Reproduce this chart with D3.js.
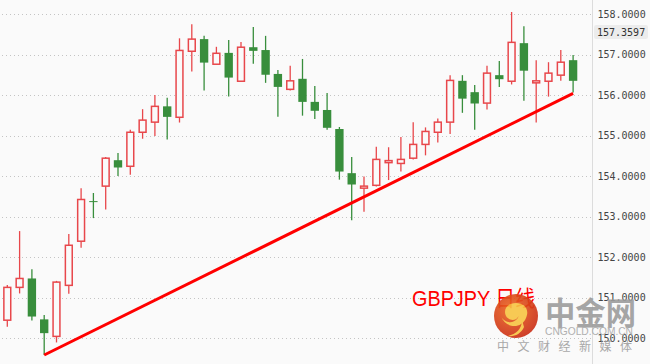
<!DOCTYPE html>
<html lang="en">
<head>
<meta charset="utf-8">
<title>GBPJPY 日线</title>
<script src="https://cdn.jsdelivr.net/npm/d3@7"></script>
<style>
  body { margin: 0; background: #fafafa; }
  svg { display: block; }
</style>
</head>
<body>
<script>
// daily candles (red = up, green = down)
var opens  = [150.44, 151.25, 151.47, 150.46, 150.04, 151.30, 152.39, 153.38, 153.75, 154.39,
              154.24, 155.08, 155.33, 155.72, 155.45, 157.08, 157.38, 156.76, 157.04, 156.34,
              157.18, 157.11, 156.52, 156.14, 156.40, 155.83, 155.63, 155.16, 154.07, 153.70,
              153.77, 154.33, 154.31, 154.44, 154.78, 155.08, 155.33, 156.35, 156.07, 155.80,
              156.49, 156.34, 157.28, 156.30, 156.34, 156.49, 156.86];
var highs  = [151.31, 152.64, 151.70, 150.57, 151.41, 152.57, 153.70, 153.58, 154.47, 154.57,
              155.14, 155.65, 156.00, 155.93, 157.40, 157.75, 157.46, 157.19, 157.36, 157.31,
              157.68, 157.46, 156.62, 156.72, 156.89, 156.22, 156.05, 155.21, 154.47, 153.99,
              154.72, 154.71, 154.96, 155.33, 155.20, 155.42, 156.49, 156.49, 156.25, 156.72,
              156.84, 158.05, 157.70, 156.86, 156.81, 157.11, 156.99];
var lows   = [150.28, 151.10, 150.43, 149.58, 149.89, 151.09, 152.23, 152.96, 153.17, 154.00,
              154.03, 154.92, 154.99, 154.90, 155.32, 156.58, 156.11, 156.76, 155.96, 156.34,
              156.77, 156.30, 155.46, 156.11, 155.49, 155.41, 155.14, 153.91, 152.91, 153.12,
              153.74, 153.90, 154.11, 154.41, 154.51, 154.83, 155.04, 155.56, 155.14, 155.64,
              156.20, 156.26, 155.86, 155.32, 155.96, 156.35, 156.06];
var closes = [151.25, 151.47, 150.53, 150.12, 151.38, 152.29, 153.42, 153.36, 154.44, 154.21,
              155.08, 155.38, 155.72, 155.46, 157.10, 157.38, 156.80, 157.03, 156.43, 157.18,
              157.09, 156.50, 156.20, 156.35, 155.83, 155.61, 155.19, 154.11, 153.79, 153.75,
              154.41, 154.38, 154.41, 154.78, 155.10, 155.33, 156.36, 155.91, 155.79, 156.54,
              156.39, 157.30, 156.60, 156.35, 156.54, 156.81, 156.35];

var yTicks = [150, 151, 152, 153, 154, 155, 156, 157, 158];
var lastPrice = 157.3597;

// support line: candle index and price at each end
var trendIdx = [3, 46];
var trendVal = [149.58, 156.04];

var width = 650, height = 364;
var axisX = 592.5;
var upColor = "#e8474b", downColor = "#388e3c", bg = "#fafafa";

var svg = d3.select("body").append("svg")
    .attr("width", width)
    .attr("height", height)
    .style("background", bg);

var idx = d3.range(opens.length);

var x = d3.scaleBand()
    .domain(idx)
    .range([1.15, 1.15 + opens.length * 12.3])
    .paddingInner(0.32)
    .paddingOuter(0.16);

var y = d3.scaleLinear()
    .domain([150, 158])
    .range([338, 14]);

function cx(i) { return x(i) + x.bandwidth() / 2; }

// dotted grid
svg.append("g").selectAll("line")
    .data(yTicks)
    .enter().append("line")
    .attr("x1", 2).attr("x2", axisX)
    .attr("y1", function(d) { return Math.round(y(d)) + 0.5; })
    .attr("y2", function(d) { return Math.round(y(d)) + 0.5; })
    .attr("stroke", "#c4c4c4")
    .attr("stroke-dasharray", "1,3");

// right axis
var yAxis = d3.axisRight(y)
    .tickValues(yTicks)
    .tickSize(0)
    .tickPadding(5)
    .tickFormat(d3.format(".4f"));

var gAxis = svg.append("g")
    .attr("transform", "translate(" + axisX + ",0)")
    .call(yAxis);
gAxis.select(".domain").remove();
gAxis.selectAll("text")
    .attr("fill", "#444")
    .style("font-family", "DejaVu Sans Mono, monospace")
    .style("font-size", "10px");

svg.append("line")
    .attr("x1", axisX).attr("x2", axisX)
    .attr("y1", 0).attr("y2", height)
    .attr("stroke", "#dcdcdc");

// last price tag
var tag = svg.append("g").attr("transform", "translate(594,25)");
tag.append("rect")
    .attr("width", 54).attr("height", 14)
    .attr("rx", 2)
    .attr("fill", "#ececec");
tag.append("text")
    .attr("x", 3).attr("y", 7)
    .attr("dy", "0.35em")
    .attr("fill", "#333")
    .style("font-family", "DejaVu Sans Mono, monospace")
    .style("font-size", "10px")
    .text(d3.format(".4f")(lastPrice));

// candles
var candles = svg.append("g").selectAll("g")
    .data(idx)
    .enter().append("g");

candles.append("line")
    .attr("x1", function(i) { return cx(i); })
    .attr("x2", function(i) { return cx(i); })
    .attr("y1", function(i) { return y(highs[i]); })
    .attr("y2", function(i) { return y(lows[i]); })
    .attr("stroke", function(i) { return closes[i] >= opens[i] ? upColor : downColor; })
    .attr("stroke-width", 1.3);

candles.append("rect")
    .attr("x", function(i) { return closes[i] >= opens[i] ? x(i) + 0.75 : x(i); })
    .attr("width", function(i) { return closes[i] >= opens[i] ? x.bandwidth() - 1.5 : x.bandwidth(); })
    .attr("y", function(i) { return y(Math.max(opens[i], closes[i])); })
    .attr("height", function(i) {
        return Math.max(1, Math.abs(y(opens[i]) - y(closes[i])));
    })
    .attr("fill", function(i) { return closes[i] >= opens[i] ? bg : downColor; })
    .attr("stroke", function(i) { return closes[i] >= opens[i] ? upColor : "none"; })
    .attr("stroke-width", 1.5);

// trend line
svg.append("line")
    .attr("x1", cx(trendIdx[0])).attr("y1", y(trendVal[0]))
    .attr("x2", cx(trendIdx[1])).attr("y2", y(trendVal[1]))
    .attr("stroke", "#ff0000")
    .attr("stroke-width", 3);

// title
svg.append("text")
    .attr("x", 412).attr("y", 306)
    .attr("fill", "#ff0000")
    .attr("textLength", 123)
    .attr("lengthAdjust", "spacingAndGlyphs")
    .style("font-family", "Liberation Sans, Noto Sans CJK SC, sans-serif")
    .style("font-size", "22px")
    .text("GBPJPY 日线");

// watermark
var wm = svg.append("g").attr("opacity", 0.9);
var grad = svg.append("defs").append("radialGradient")
    .attr("id", "logoGrad").attr("cx", "40%").attr("cy", "35%").attr("r", "70%");
grad.append("stop").attr("offset", "0%").attr("stop-color", "#ee6a22");
grad.append("stop").attr("offset", "100%").attr("stop-color", "#c92a14");

wm.append("circle")
    .attr("cx", 516).attr("cy", 316).attr("r", 22)
    .attr("fill", "url(#logoGrad)");
wm.append("path")
    .attr("d", "M516,303 c-9,0 -13,7 -10,13 c3,5 10,5 12,1 c2,-4 -2,-7 -5,-5 " +
               "c5,-1 7,4 4,7 c-4,5 -13,4 -16,-3 c4,12 20,14 25,2 c4,-9 -2,-15 -10,-15 z")
    .attr("fill", "#f7c443");
wm.append("path")
    .attr("d", "M522,320 c0,9 -6,14 -14,16 c6,1 13,-2 16,-9 z")
    .attr("fill", "#f7c443");

wm.append("text")
    .attr("x", 545).attr("y", 325)
    .attr("fill", "#9c9c9c")
    .attr("textLength", 91)
    .attr("lengthAdjust", "spacingAndGlyphs")
    .style("font-family", "Noto Sans CJK SC, sans-serif")
    .style("font-size", "32px")
    .style("font-weight", "bold")
    .text("中金网");

wm.append("text")
    .attr("x", 545).attr("y", 335)
    .attr("fill", "#a8a8a8")
    .attr("textLength", 88)
    .attr("lengthAdjust", "spacingAndGlyphs")
    .style("font-family", "Liberation Sans, sans-serif")
    .style("font-size", "11px")
    .text("CNGOLD.COM.CN");

wm.append("text")
    .attr("x", 497).attr("y", 351)
    .attr("fill", "#a0a0a0")
    .attr("textLength", 135)
    .attr("lengthAdjust", "spacing")
    .style("font-family", "Noto Sans CJK SC, sans-serif")
    .style("font-size", "12px")
    .text("中文财经新媒体");
</script>
</body>
</html>
